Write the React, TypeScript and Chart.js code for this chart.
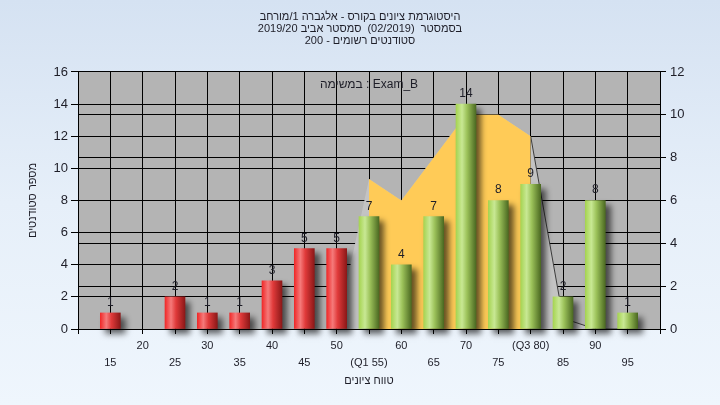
import React, { useEffect, useRef } from 'react';
import { Chart, registerables } from 'chart.js';

Chart.register(...registerables);

// ---------- data ----------
const categories = ['10', '15', '20', '25', '30', '35', '40', '45', '50', '55', '60', '65', '70', '75', '80', '85', '90', '95', '100'];
const tickLabels = ['', '15', '20', '25', '30', '35', '40', '45', '50', '(Q1 55)', '60', '65', '70', '75', '(Q3 80)', '85', '90', '95', ''];
const counts = [null, 1, 0, 2, 1, 1, 3, 5, 5, 7, 4, 7, 14, 8, 9, 2, 8, 1, null];
const trendAll = [null, 0, 0, 0, 0, 0, 0, 0, 0, 7, 6, 8, 10, 10, 9, 0.5, 0, 0, null];
const trendIQR = [null, null, null, null, null, null, null, null, null, 7, 6, 8, 10, 10, 9, null, null, null, null];
const passGrade = 55;
const q3Index = 14;
const titleLines = [
  'היסטוגרמת ציונים בקורס - אלגברה 1/מורחב',
  'בסמסטר  (02/2019)  סמסטר אביב 2019/20',
  'סטודנטים רשומים - 200',
];
const examLabel = 'במשימה : Exam_B';
const xTitle = 'טווח ציונים';
const yTitle = 'מספר סטודנטים';

const FONT = "'Liberation Sans', Arial, sans-serif";
const TEXT = '#1e1e28';

function barGradient(c: any) {
  const chart = c.chart;
  const xs = chart.scales && chart.scales.x;
  const idx = c.dataIndex;
  if (idx != null && !counts[idx]) return 'rgba(0,0,0,0)';
  const isPass = idx != null && Number(categories[idx]) >= passGrade;
  const fallback = isPass ? '#a0c850' : '#e02828';
  if (!xs || idx == null) return fallback;
  const cx = xs.getPixelForValue(idx);
  if (!isFinite(cx)) return fallback;
  const g = chart.ctx.createLinearGradient(cx - 10, 0, cx + 10, 0);
  if (isPass) {
    g.addColorStop(0, '#a6d452');
    g.addColorStop(0.3, '#c8e894');
    g.addColorStop(0.55, '#9cc25a');
    g.addColorStop(1, '#4c6a22');
  } else {
    g.addColorStop(0, '#f02a2a');
    g.addColorStop(0.3, '#f57a7a');
    g.addColorStop(0.55, '#e03a3a');
    g.addColorStop(1, '#8c1818');
  }
  return g;
}

const plotBgPlugin = {
  id: 'plotBg',
  beforeDraw(chart: any) {
    const { ctx, chartArea } = chart;
    ctx.save();
    ctx.fillStyle = '#b4b4b4';
    ctx.fillRect(chartArea.left, chartArea.top, chartArea.right - chartArea.left, chartArea.bottom - chartArea.top);
    ctx.restore();
  },
};

const shadowPlugin = {
  id: 'barShadow',
  beforeDatasetDraw(chart: any, args: any) {
    if (args.meta.type !== 'bar') return;
    const ctx = chart.ctx;
    ctx.save();
    ctx.shadowColor = 'rgba(0,0,0,0.6)';
    ctx.shadowBlur = 6;
    ctx.shadowOffsetX = 5;
    ctx.shadowOffsetY = 5;
  },
  afterDatasetDraw(chart: any, args: any) {
    if (args.meta.type !== 'bar') return;
    chart.ctx.restore();
  },
};

const labelsPlugin = {
  id: 'barLabels',
  afterDatasetsDraw(chart: any) {
    const { ctx, chartArea } = chart;
    const meta = chart.getDatasetMeta(0);
    ctx.save();
    ctx.fillStyle = TEXT;
    ctx.font = `12px ${FONT}`;
    ctx.textAlign = 'center';
    ctx.textBaseline = 'alphabetic';
    meta.data.forEach((el: any, i: number) => {
      const v = counts[i];
      if (v == null || v === 0) return;
      ctx.fillText(String(v), el.x, el.y - 7);
    });
    ctx.textBaseline = 'middle';
    ctx.fillText(examLabel, (chartArea.left + chartArea.right) / 2, 85);
    ctx.restore();
  },
};

export default function App() {
  const ref = useRef<HTMLCanvasElement>(null);

  useEffect(() => {
    if (!ref.current) return;
    const chart = new Chart(ref.current, {
      type: 'bar',
      data: {
        labels: categories,
        datasets: [
          {
            type: 'bar',
            data: counts as any,
            backgroundColor: barGradient as any,
            borderWidth: 0,
            barThickness: 20,
            yAxisID: 'y',
            order: 0,
            clip: false as any,
          },
          {
            type: 'line',
            data: trendIQR as any,
            yAxisID: 'y1',
            fill: 'origin',
            backgroundColor: '#ffcb57',
            borderWidth: 0,
            borderColor: 'rgba(0,0,0,0)',
            pointRadius: 0,
            tension: 0,
            spanGaps: false,
            order: 1,
          },
          {
            type: 'line',
            data: trendAll as any,
            yAxisID: 'y1',
            fill: 'origin',
            backgroundColor: '#c3c3c3',
            borderWidth: 1,
            borderColor: 'rgba(0,0,0,0)',
            segment: {
              borderColor: (c: any) => (c.p0DataIndex >= q3Index ? '#3c3c3c' : 'rgba(0,0,0,0)'),
            },
            pointRadius: 0,
            tension: 0,
            order: 2,
          },
        ],
      },
      options: {
        responsive: false,
        animation: false,
        devicePixelRatio: 1,
        layout: { padding: 0 },
        plugins: {
          legend: { display: false },
          tooltip: { enabled: false },
          title: {
            display: true,
            text: titleLines,
            color: TEXT,
            font: { family: FONT, size: 11, weight: 'normal', lineHeight: 1.12 },
            padding: { top: 10.5, bottom: 24.5 },
          },
        },
        scales: {
          x: {
            type: 'category',
            offset: false,
            grid: { color: '#000', offset: false, tickLength: 5, tickColor: '#000' },
            border: { color: '#000' },
            ticks: {
              autoSkip: false,
              maxRotation: 0,
              minRotation: 0,
              padding: 3,
              color: TEXT,
              font: { family: FONT, size: 11, lineHeight: 1.57 },
              callback: (_v: any, i: number) => {
                const t = tickLabels[i];
                return Number(categories[i]) % 10 === 0 ? [t, ''] : ['', t];
              },
            },
            title: {
              display: true,
              text: xTitle,
              color: TEXT,
              font: { family: FONT, size: 11, lineHeight: 1.2 },
              padding: { top: 0, bottom: 17.5 },
            },
            afterFit: (s: any) => {
              s.height = 76;
            },
          },
          y: {
            position: 'left',
            min: 0,
            max: 16,
            grid: { color: '#000', tickLength: 7, tickColor: '#000' },
            border: { color: '#000' },
            ticks: {
              stepSize: 2,
              padding: 3,
              color: TEXT,
              font: { family: FONT, size: 13 },
            },
            title: {
              display: true,
              text: yTitle,
              color: TEXT,
              font: { family: FONT, size: 11, lineHeight: 1.2 },
              padding: { top: 26.7, bottom: 0 },
            },
            afterFit: (s: any) => {
              s.width = 78;
            },
          },
          y1: {
            position: 'right',
            min: 0,
            max: 12,
            grid: { color: '#000', tickLength: 6, tickColor: '#000', drawOnChartArea: true },
            border: { color: '#000' },
            ticks: {
              stepSize: 2,
              padding: 4,
              color: TEXT,
              font: { family: FONT, size: 13 },
            },
            afterFit: (s: any) => {
              s.width = 60;
            },
          },
        },
      } as any,
      plugins: [plotBgPlugin, shadowPlugin, labelsPlugin],
    });
    return () => chart.destroy();
  }, []);

  return (
    <div
      style={{
        position: 'absolute',
        left: 0,
        top: 0,
        width: 720,
        height: 405,
        background: 'linear-gradient(180deg, #d5e2f2 0%, #e6eff9 50%, #eff6fd 100%)',
      }}
    >
      <canvas ref={ref} width={720} height={405} style={{ display: 'block' }} />
    </div>
  );
}
